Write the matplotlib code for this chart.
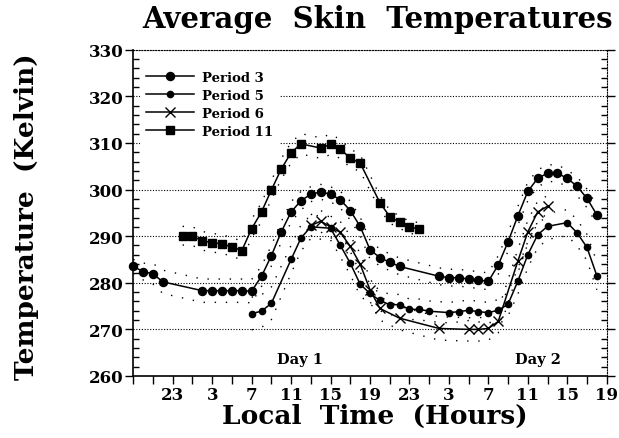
import matplotlib
matplotlib.use("Agg")
import matplotlib.pyplot as plt
from matplotlib.ticker import MultipleLocator, FixedLocator
import numpy as np

# ---- data (hours since midnight of Day 1; axis runs 19h Day 0 -> 19h Day 2) ----
p3_t = [-5, -4, -3, -2, 2, 3, 4, 5, 6, 7, 8, 9, 10, 11, 12, 13, 14, 15, 16, 17, 18, 19, 20, 21, 22,
        26, 27, 28, 29, 30, 31, 32, 33, 34, 35, 36, 37, 38, 39, 40, 41, 42]
p3_v = [283.5, 282.4, 281.9, 280.2, 278.3, 278.3, 278.3, 278.3, 278.3, 278.2, 281.4, 285.8, 290.9,
        295.2, 297.6, 299.0, 299.5, 299.0, 297.8, 295.5, 292.1, 287.1, 285.4, 284.4, 283.5,
        281.4, 281.1, 281.1, 280.8, 280.6, 280.3, 283.8, 288.8, 294.4, 299.6, 302.4, 303.5, 303.5,
        302.4, 300.7, 298.1, 294.6]
p3_sd = [1.5, 1.8, 2.2, 2.5, 2.5, 2.5, 2.5, 2.5, 2.5, 2.5, 2.2, 2.2, 2.2, 2.2, 2.0, 1.6, 1.6, 1.6,
         1.8, 2.0, 2.0, 2.0, 1.8, 1.8, 1.8, 1.8, 1.8, 1.8, 1.8, 1.8, 1.8, 2.0, 2.0, 2.0, 2.0, 1.8,
         1.8, 1.8, 1.8, 2.0, 2.0, 2.0]

p5_t = [7, 8, 9, 11, 12, 13, 15, 16, 17, 18, 19, 20, 21, 22, 23, 24, 25, 27, 28, 29, 30, 31, 32,
        33, 34, 35, 36, 37, 39, 40, 41, 42]
p5_v = [273.4, 273.9, 275.6, 285.0, 289.6, 292.0, 291.7, 288.0, 284.2, 279.7, 277.7, 276.2, 275.3,
        275.3, 274.3, 274.3, 273.9, 273.6, 273.8, 274.1, 273.8, 273.6, 274.1, 275.4, 280.4, 286.0,
        290.3, 292.1, 292.9, 290.7, 287.6, 281.5]
p5_sd = [3.5, 3.5, 3.5, 3.0, 2.8, 2.5, 2.5, 2.5, 2.5, 2.5, 2.3, 2.2, 2.2, 2.2, 2.2, 2.2, 2.2, 2.2,
         2.2, 2.2, 2.2, 2.2, 2.3, 2.5, 2.8, 2.8, 2.8, 2.8, 2.8, 2.8, 2.8, 3.0]

p6_t = [13, 14, 15, 16, 17, 18, 19, 20, 22, 26, 29, 30, 31, 32, 34, 35, 36, 37]
p6_v = [292.3, 293.2, 292.0, 290.8, 287.8, 284.0, 278.5, 274.5, 272.4, 270.2, 270.0, 270.0, 270.2,
        271.7, 284.7, 290.9, 295.2, 296.4]
p6_sd = [2.3, 2.3, 2.3, 2.3, 2.3, 2.3, 2.5, 2.5, 2.5, 2.5, 2.5, 2.5, 2.5, 2.5, 2.5, 2.5, 2.3, 2.3]

p11_t = [0, 1, 2, 3, 4, 5, 6, 7, 8, 9, 10, 11, 12, 14, 15, 16, 17, 18, 20, 21, 22, 23, 24]
p11_v = [290.1, 290.0, 289.0, 288.6, 288.3, 287.7, 286.9, 291.6, 295.2, 299.9, 304.4, 307.9, 309.8,
         308.9, 309.7, 308.7, 306.7, 305.7, 297.2, 294.2, 293.0, 291.9, 291.6]
p11_sd = [2.0, 2.0, 2.0, 2.0, 2.0, 2.0, 2.0, 2.0, 2.0, 2.0, 2.2, 2.2, 2.2, 2.2, 2.2, 2.0, 2.0, 1.8,
          1.5, 1.4, 1.3, 1.3, 1.3]

xtick_pos = [-1, 3, 7, 11, 15, 19, 23, 27, 31, 35, 39, 43]
xtick_labels = ["23", "3", "7", "11", "15", "19", "23", "3", "7", "11", "15", "19"]
series_names = ["Period 3", "Period 5", "Period 6", "Period 11"]

SERIF = "DejaVu Serif"

fig = plt.figure(figsize=(6.19, 4.39), dpi=100)
ax = fig.add_axes([133.3 / 619, 1 - 377 / 439, (606.7 - 133.3) / 619, (377 - 50.7) / 439])

# horizontal dotted gridlines
for g in [270, 280, 290, 300, 310, 320, 330]:
    ax.axhline(g, color="black", lw=0.8, ls=(0, (1, 1.5)), zorder=1)

env_style = dict(color="black", lw=1.0, ls=(0, (1, 7)), zorder=2)

styles = [
    (p3_t, p3_v, p3_sd, dict(marker="o", ms=5.8)),
    (p5_t, p5_v, p5_sd, dict(marker="o", ms=4.5)),
    (p6_t, p6_v, p6_sd, dict(marker="x", ms=7.5, mew=1.0)),
    (p11_t, p11_v, p11_sd, dict(marker="s", ms=5.4)),
]
handles = []
for (t, v, sd, st), name in zip(styles, series_names):
    t = np.array(t, float); v = np.array(v); sd = np.array(sd)
    ax.plot(t, v + sd, **env_style)
    ax.plot(t, v - sd, **env_style)
    h, = ax.plot(t, v, color="black", lw=1.1, label=name, clip_on=False, zorder=4, **st)
    handles.append(h)

ax.set_xlim(-5, 43)
ax.set_ylim(260, 330)

ax.xaxis.set_major_locator(FixedLocator(xtick_pos))
ax.set_xticklabels(xtick_labels)
ax.xaxis.set_minor_locator(FixedLocator(list(range(-5, 44, 2))))
ax.yaxis.set_major_locator(MultipleLocator(10))
ax.yaxis.set_minor_locator(MultipleLocator(2))

ax.tick_params(axis="x", which="both", direction="out", length=6, width=1, top=False, pad=1)
ax.tick_params(axis="y", which="major", direction="out", length=6, width=1, right=True, pad=1)
ax.tick_params(axis="y", which="minor", direction="in", length=4, width=1, right=True)
for lab in ax.get_xticklabels() + ax.get_yticklabels():
    lab.set_fontfamily(SERIF)
    lab.set_fontweight("bold")
    lab.set_fontsize(12)

ax.spines["top"].set_linestyle((0, (1, 1.5)))
ax.spines["top"].set_linewidth(0.8)
ax.spines["right"].set_linestyle((0, (1, 1.5)))
ax.spines["right"].set_linewidth(0.8)
ax.spines["left"].set_linewidth(1.2)
ax.spines["bottom"].set_linewidth(1.2)

leg = ax.legend(handles=handles, loc="upper left", bbox_to_anchor=(0.0, 0.975),
                frameon=True, fancybox=False, edgecolor="none", facecolor="white", framealpha=1,
                handlelength=3.6, handletextpad=0.6, labelspacing=0.38, borderpad=0.5,
                prop=dict(family=SERIF, weight="bold", size=9.5))
leg.set_zorder(5)

ax.text(11.9, 263.6, "Day 1", ha="center", va="center", fontfamily=SERIF,
        fontweight="bold", fontsize=10.5)
ax.text(36.0, 263.6, "Day 2", ha="center", va="center", fontfamily=SERIF,
        fontweight="bold", fontsize=10.5)

fig.text(378 / 619, 1 - 19 / 439, "Average  Skin  Temperatures", ha="center", va="center",
         fontfamily=SERIF, fontweight="bold", fontsize=21)
fig.text(27 / 619, 1 - 217 / 439, "Temperature  (Kelvin)", ha="center", va="center",
         rotation=90, fontfamily=SERIF, fontweight="bold", fontsize=19)
fig.text(375 / 619, 1 - 416 / 439, "Local  Time  (Hours)", ha="center", va="center",
         fontfamily=SERIF, fontweight="bold", fontsize=19)

fig.savefig("out.png", dpi=100)
